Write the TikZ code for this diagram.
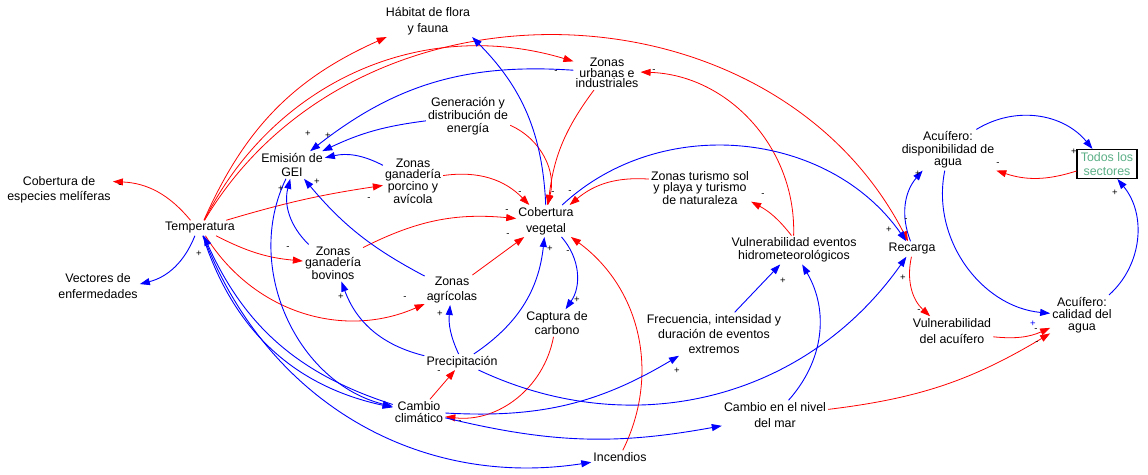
\documentclass[tikz,border=0pt]{standalone}
\usepackage{fontspec}
\setmainfont{Liberation Sans}
\usetikzlibrary{arrows.meta}
\definecolor{linkblue}{HTML}{0000FF}
\definecolor{linkred}{HTML}{FF0000}
\definecolor{sector}{HTML}{5BAF86}
\newcommand{\varfont}[1]{\fontsize{12.4}{#1}\selectfont}

\begin{document}
\begin{tikzpicture}[
    x=1pt, y=-1pt,
    font=\varfont{14},
    >={Triangle[length=10pt, width=7pt]},
    var/.style={align=center, inner sep=2pt},
    bluearc/.style={->, line width=0.9pt, draw=linkblue},
    redarc/.style={->, line width=0.8pt, draw=linkred},
    sgn/.style={font=\fontsize{9.5}{10}\selectfont, inner sep=0pt},
  ]
  \useasboundingbox (0,0) rectangle (1148,474);
  % ---- variables
  \node[var, font=\varfont{16}] (habitat) at (428,21) {Hábitat de flora\\y fauna};
  \node[var, font=\varfont{10.5}] (urbanas) at (607,73) {Zonas\\urbanas e\\industriales};
  \node[var, font=\varfont{13}] (energia) at (468,116) {Generación y\\distribución de\\energía};
  \node[var] (gei) at (292,165) {Emisión de\\GEI};
  \node[var, font=\varfont{14.5}] (meliferas) at (59,190) {Cobertura de\\especies melíferas};
  \node[var, font=\varfont{11}] (porcino) at (413,181) {Zonas\\ganadería\\porcino y\\avícola};
  \node[var, font=\varfont{16}] (cobertura) at (546,221) {Cobertura\\vegetal};
  \node[var, font=\varfont{11}] (turismo) at (700,188) {Zonas turismo sol\\y playa y turismo\\de naturaleza};
  \node[var] (temp) at (200,228) {Temperatura};
  \node[var, font=\varfont{11.5}] (bovinos) at (333,263) {Zonas\\ganadería\\bovinos};
  \node[var, font=\varfont{16}] (vectores) at (98,286) {Vectores de\\enfermedades};
  \node[var, font=\varfont{14.5}] (agricolas) at (452,290) {Zonas\\agrícolas};
  \node[var] (captura) at (557,323) {Captura de\\carbono};
  \node[var] (precip) at (462,362) {Precipitación};
  \node[var, font=\varfont{12}] (cambio) at (419,412) {Cambio\\climático};
  \node[var] (incendios) at (620,457) {Incendios};
  \node[var, font=\varfont{15}] (eventos) at (714,334) {Frecuencia, intensidad y\\duración de eventos\\extremos};
  \node[var, font=\varfont{13}] (vulhidro) at (794,250) {Vulnerabilidad eventos\\hidrometeorológicos};
  \node[var, font=\varfont{16}] (nivelmar) at (775,415) {Cambio en el nivel\\del mar};
  \node[var] (recarga) at (912,249) {Recarga};
  \node[var, font=\varfont{12.5}] (acudisp) at (948,150) {Acuífero:\\disponibilidad de\\agua};
  \node[var, font=\varfont{14.5}, draw, line width=1.1pt, text=sector, minimum width=60, minimum height=29] (sectores) at (1107,164) {Todos los\\sectores};
  \node[var, font=\varfont{16}] (vulacu) at (952,331) {Vulnerabilidad\\del acuífero};
  \node[var, font=\varfont{12}] (acucal) at (1082,315) {Acuífero:\\calidad del\\agua};
  % ---- red links
  \draw[redarc] (temp) to[bend right=24] (meliferas);
  \draw[redarc] (temp) to[bend left=21] (habitat);
  \draw[redarc] (temp) to[bend left=40] (urbanas);
  \draw[redarc] (temp) to[bend left=61, looseness=1.08] (recarga);
  \draw[redarc] (temp) to[bend left=4] (porcino);
  \draw[redarc] (temp) to[bend right=11] (bovinos);
  \draw[redarc] (temp) to[bend right=41] (agricolas);
  \draw[redarc] (porcino) to[bend left=27] (cobertura);
  \draw[redarc] (energia) to[bend left=41] (cobertura);
  \draw[redarc] (urbanas) to[bend right=15] (cobertura);
  \draw[redarc] (turismo) to[bend right=22] (cobertura);
  \draw[redarc] (bovinos) to[bend left=16] (cobertura);
  \draw[redarc] (agricolas) -- (cobertura);
  \draw[redarc] (incendios) to[bend right=40] (cobertura);
  \draw[redarc] (captura) to[bend left=43] (cambio);
  \draw[redarc] (cambio) -- (precip);
  \draw[redarc] (vulhidro.100) to[bend right=12] (turismo.-15);
  \draw[redarc] (vulhidro) to[bend right=45] (urbanas);
  \draw[redarc] (recarga) to[bend right=30] (vulacu);
  \draw[redarc] (vulacu) to[bend right=15] (acucal);
  \draw[redarc] (nivelmar) to[bend right=12] (acucal);
  \draw[redarc] (sectores) to[bend left=18] (acudisp);
  % ---- blue links
  \draw[bluearc] (temp) to[bend left=27] (vectores);
  \draw[bluearc] (urbanas) to[bend right=21] (gei);
  \draw[bluearc] (energia) to[bend right=9] (gei);
  \draw[bluearc] (porcino) to[bend right=20] (gei);
  \draw[bluearc] (bovinos) to[bend left=30] (gei);
  \draw[bluearc] (agricolas) to[bend left=11] (gei);
  \draw[bluearc] (gei) to[bend right=51] (cambio);
  \draw[bluearc] (cambio) to[bend left=24] (temp);
  \draw[bluearc] (temp) to[bend right=30] (cambio);
  \draw[bluearc] (temp) to[bend right=39] (incendios);
  \draw[bluearc] (precip) to[bend left=28] (bovinos);
  \draw[bluearc] (precip) to[bend left=15] (agricolas);
  \draw[bluearc] (precip) to[bend right=25] (cobertura);
  \draw[bluearc] (precip) to[bend right=40] (recarga);
  \draw[bluearc] (cobertura) to[bend left=38] (captura);
  \draw[bluearc] (cobertura) to[bend right=21] (habitat.-20);
  \draw[bluearc] (cobertura) to[bend left=49] (recarga);
  \draw[bluearc] (cambio) to[bend right=17] (eventos);
  \draw[bluearc] (cambio) to[bend right=12] (nivelmar);
  \draw[bluearc] (eventos) -- (vulhidro);
  \draw[bluearc] (nivelmar) to[bend right=36] (vulhidro);
  \draw[bluearc] (recarga) to[bend left=31] (acudisp);
  \draw[bluearc] (acudisp) to[bend left=41] (sectores);
  \draw[bluearc] (acudisp) to[bend right=48] (acucal);
  \draw[bluearc] (acucal) to[bend right=44] (sectores);
  % ---- polarity signs
  \foreach \x/\y [count=\i] in {120/186, 288/248, 369/199, 405/298, 520/193, 553/193, 570/192,
      507/211, 508/235, 568/252, 556/72, 654/71, 763/195, 906/220, 998/164, 439/372,
      460/422, 919/311, 1036/330, 1037/343}
    \node[sgn] (neg\i) at (\x,\y) {-};
  \foreach \x/\y [count=\i] in {308/134, 328/136, 317/182, 281/189, 199/254, 341/297,
      440/314, 550/249, 577/300, 677/371, 783/281, 903/278, 889/230, 918/174,
      1074/152, 1115/193}
    \node[sgn] (posi\i) at (\x,\y) {+};
  \node[sgn, text=linkblue] (posblue) at (1033,324) {+};
\end{tikzpicture}
\end{document}
